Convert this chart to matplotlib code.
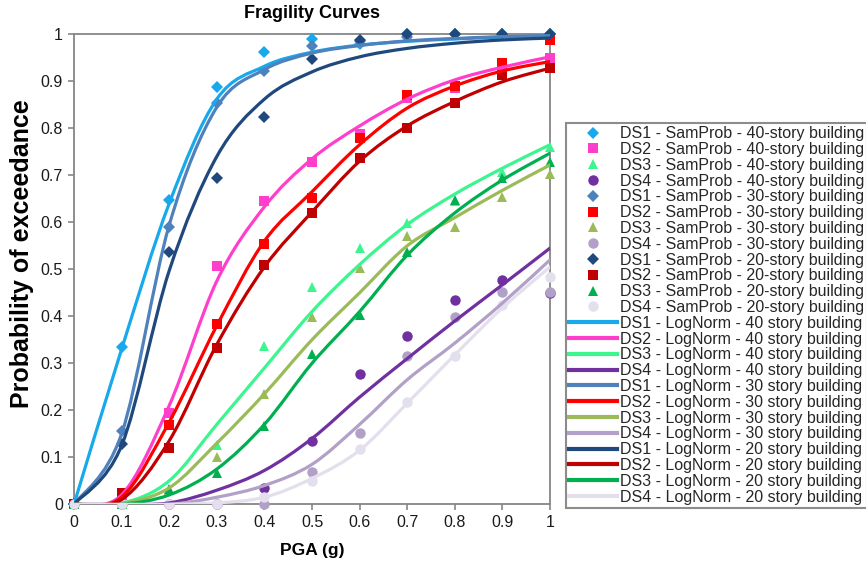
import matplotlib
matplotlib.use("Agg")
import matplotlib.pyplot as plt
import numpy as np
from matplotlib.path import Path
from matplotlib.patches import PathPatch
from matplotlib.lines import Line2D

plt.rcParams['font.family'] = ['Liberation Sans', 'DejaVu Sans']

pga = [0, 0.1, 0.2, 0.3, 0.4, 0.5, 0.6, 0.7, 0.8, 0.9, 1.0]
tick_labels = ['0', '0.1', '0.2', '0.3', '0.4', '0.5', '0.6', '0.7', '0.8', '0.9', '1']

# sampled probabilities (markers)
sam_ds1_40 = [0, 0.335, 0.647, 0.888, 0.962, 0.989, 0.98, 1.0, 1.0, 1.0, 1.0]
sam_ds2_40 = [0, 0.02, 0.194, 0.508, 0.645, 0.728, 0.787, 0.865, 0.885, 0.93, 0.949]
sam_ds3_40 = [0, 0, 0.03, 0.126, 0.337, 0.463, 0.545, 0.598, 0.645, 0.708, 0.761]
sam_ds4_40 = [0, 0, 0, 0, 0.034, 0.135, 0.277, 0.359, 0.435, 0.477, 0.45]
sam_ds1_30 = [0, 0.155, 0.589, 0.854, 0.922, 0.975, 0.985, 0.995, 1.0, 1.0, 1.0]
sam_ds2_30 = [0, 0.023, 0.169, 0.383, 0.553, 0.652, 0.78, 0.871, 0.889, 0.938, 0.988]
sam_ds3_30 = [0, 0, 0.03, 0.101, 0.234, 0.399, 0.502, 0.571, 0.591, 0.654, 0.702]
sam_ds4_30 = [0, 0, 0, 0, 0.0, 0.068, 0.151, 0.316, 0.399, 0.452, 0.451]
sam_ds1_20 = [0, 0.128, 0.537, 0.695, 0.823, 0.947, 0.988, 1.0, 1.0, 1.0, 1.0]
sam_ds2_20 = [0, 0.023, 0.12, 0.333, 0.509, 0.619, 0.736, 0.801, 0.853, 0.913, 0.929]
sam_ds3_20 = [0, 0, 0.033, 0.066, 0.167, 0.319, 0.403, 0.537, 0.647, 0.694, 0.729]
sam_ds4_20 = [0, 0, 0, 0, 0.015, 0.05, 0.117, 0.218, 0.316, 0.424, 0.484]

# lognormal curves (read at each 0.1 g)
log_ds1_40 = [0, 0.33, 0.64, 0.862, 0.932, 0.962, 0.977, 0.985, 0.99, 0.994, 0.996]
log_ds2_40 = [0, 0.02, 0.21, 0.475, 0.633, 0.735, 0.805, 0.862, 0.903, 0.93, 0.952]
log_ds3_40 = [0, 0.002, 0.05, 0.17, 0.29, 0.41, 0.51, 0.595, 0.66, 0.715, 0.765]
log_ds4_40 = [0, 0, 0.003, 0.03, 0.072, 0.14, 0.228, 0.31, 0.39, 0.467, 0.545]
log_ds1_30 = [0, 0.15, 0.594, 0.845, 0.925, 0.96, 0.976, 0.986, 0.991, 0.995, 0.997]
log_ds2_30 = [0, 0.015, 0.175, 0.38, 0.56, 0.665, 0.765, 0.843, 0.89, 0.922, 0.942]
log_ds3_30 = [0, 0.002, 0.035, 0.13, 0.235, 0.35, 0.45, 0.55, 0.61, 0.668, 0.722]
log_ds4_30 = [0, 0, 0, 0.015, 0.04, 0.085, 0.17, 0.265, 0.343, 0.428, 0.52]
log_ds1_20 = [0, 0.125, 0.497, 0.74, 0.862, 0.92, 0.952, 0.97, 0.981, 0.988, 0.992]
log_ds2_20 = [0, 0.01, 0.135, 0.34, 0.505, 0.622, 0.73, 0.805, 0.857, 0.899, 0.928]
log_ds3_20 = [0, 0, 0.02, 0.075, 0.17, 0.3, 0.41, 0.53, 0.62, 0.69, 0.747]
log_ds4_20 = [0, 0, 0, 0.003, 0.015, 0.055, 0.115, 0.215, 0.318, 0.418, 0.505]

c_ds1_40, c_ds2_40, c_ds3_40, c_ds4_40 = '#17A9EC', '#FF3FCB', '#3CF58F', '#7030A0'
c_ds1_30, c_ds2_30, c_ds3_30, c_ds4_30 = '#4F81BD', '#FF0000', '#9BBB59', '#B1A0C7'
c_ds1_20, c_ds2_20, c_ds3_20, c_ds4_20 = '#1F497D', '#C00000', '#00B050', '#E4DFEC'

sam_series = [
    (sam_ds1_40, c_ds1_40, 'D', 6.5, 'DS1 - SamProb - 40-story building'),
    (sam_ds2_40, c_ds2_40, 's', 7.5, 'DS2 - SamProb - 40-story building'),
    (sam_ds3_40, c_ds3_40, '^', 7.5, 'DS3 - SamProb - 40-story building'),
    (sam_ds4_40, c_ds4_40, 'o', 7.5, 'DS4 - SamProb - 40-story building'),
    (sam_ds1_30, c_ds1_30, 'D', 6.5, 'DS1 - SamProb - 30-story building'),
    (sam_ds2_30, c_ds2_30, 's', 7.5, 'DS2 - SamProb - 30-story building'),
    (sam_ds3_30, c_ds3_30, '^', 7.5, 'DS3 - SamProb - 30-story building'),
    (sam_ds4_30, c_ds4_30, 'o', 7.5, 'DS4 - SamProb - 30-story building'),
    (sam_ds1_20, c_ds1_20, 'D', 6.5, 'DS1 - SamProb - 20-story building'),
    (sam_ds2_20, c_ds2_20, 's', 7.5, 'DS2 - SamProb - 20-story building'),
    (sam_ds3_20, c_ds3_20, '^', 7.5, 'DS3 - SamProb - 20-story building'),
    (sam_ds4_20, c_ds4_20, 'o', 7.5, 'DS4 - SamProb - 20-story building'),
]
log_series = [
    (log_ds1_40, c_ds1_40, 'DS1 - LogNorm - 40 story building'),
    (log_ds2_40, c_ds2_40, 'DS2 - LogNorm - 40 story building'),
    (log_ds3_40, c_ds3_40, 'DS3 - LogNorm - 40 story building'),
    (log_ds4_40, c_ds4_40, 'DS4 - LogNorm - 40 story building'),
    (log_ds1_30, c_ds1_30, 'DS1 - LogNorm - 30 story building'),
    (log_ds2_30, c_ds2_30, 'DS2 - LogNorm - 30 story building'),
    (log_ds3_30, c_ds3_30, 'DS3 - LogNorm - 30 story building'),
    (log_ds4_30, c_ds4_30, 'DS4 - LogNorm - 30 story building'),
    (log_ds1_20, c_ds1_20, 'DS1 - LogNorm - 20 story building'),
    (log_ds2_20, c_ds2_20, 'DS2 - LogNorm - 20 story building'),
    (log_ds3_20, c_ds3_20, 'DS3 - LogNorm - 20 story building'),
    (log_ds4_20, c_ds4_20, 'DS4 - LogNorm - 20 story building'),
]


def smooth_path(x, y):
    # Excel-like smoothed line: Bezier segments through the points
    p = np.column_stack([x, y]).astype(float)
    verts = [p[0]]
    codes = [Path.MOVETO]
    n = len(p)
    for i in range(n - 1):
        p0 = p[max(i - 1, 0)]
        p1, p2 = p[i], p[i + 1]
        p3 = p[min(i + 2, n - 1)]
        verts += [p1 + (p2 - p0) / 6, p2 - (p3 - p1) / 6, p2]
        codes += [Path.CURVE4] * 3
    return Path(verts, codes)


fig = plt.figure(figsize=(8.66, 5.64), dpi=100)
ax = fig.add_axes([74 / 866, 1 - 504.3 / 564, 476 / 866, 470 / 564])

handles = []
for vals, col, mk, ms, lab in sam_series:
    h, = ax.plot(pga, vals, ls='none', marker=mk, ms=ms, color=col,
                 markeredgewidth=0, clip_on=False, zorder=3, label=lab)
    handles.append(h)

for vals, col, lab in log_series:
    ax.add_patch(PathPatch(smooth_path(pga, vals), fill=False, edgecolor=col,
                           lw=2.3, capstyle='round', zorder=4))
    handles.append(Line2D([], [], color=col, lw=3, label=lab))

ax.set_xlim(0, 1)
ax.set_ylim(0, 1)
ax.set_xticks(pga)
ax.set_xticklabels(tick_labels)
ax.set_yticks(pga)
ax.set_yticklabels(tick_labels)
ax.tick_params(direction='out', length=4, width=1.2, color='#868686',
               labelsize=11.5, labelcolor='#1a1a1a', pad=4)
for sp in ax.spines.values():
    sp.set_color('#868686')
    sp.set_linewidth(1.3)

ax.set_title('Fragility Curves', fontsize=13, fontweight='bold', pad=12)
ax.set_xlabel('PGA (g)', fontsize=12.5, fontweight='bold', labelpad=9)
ax.set_ylabel('Probability of exceedance', fontsize=18, fontweight='bold')
ax.yaxis.set_label_coords(-0.085, 0.533)

leg = fig.legend(handles=handles, loc='upper left',
                 bbox_to_anchor=(566 / 866, 1 - 123 / 564),
                 bbox_transform=fig.transFigure, frameon=True, fancybox=False,
                 edgecolor='#6f6f6f', fontsize=11.5, labelspacing=0.05,
                 handlelength=3.0, handletextpad=0.15, borderpad=0.2,
                 borderaxespad=0, numpoints=1)
leg.get_frame().set_linewidth(1.5)
for t in leg.get_texts():
    t.set_color('#262626')

fig.savefig('out.png', dpi=100)
